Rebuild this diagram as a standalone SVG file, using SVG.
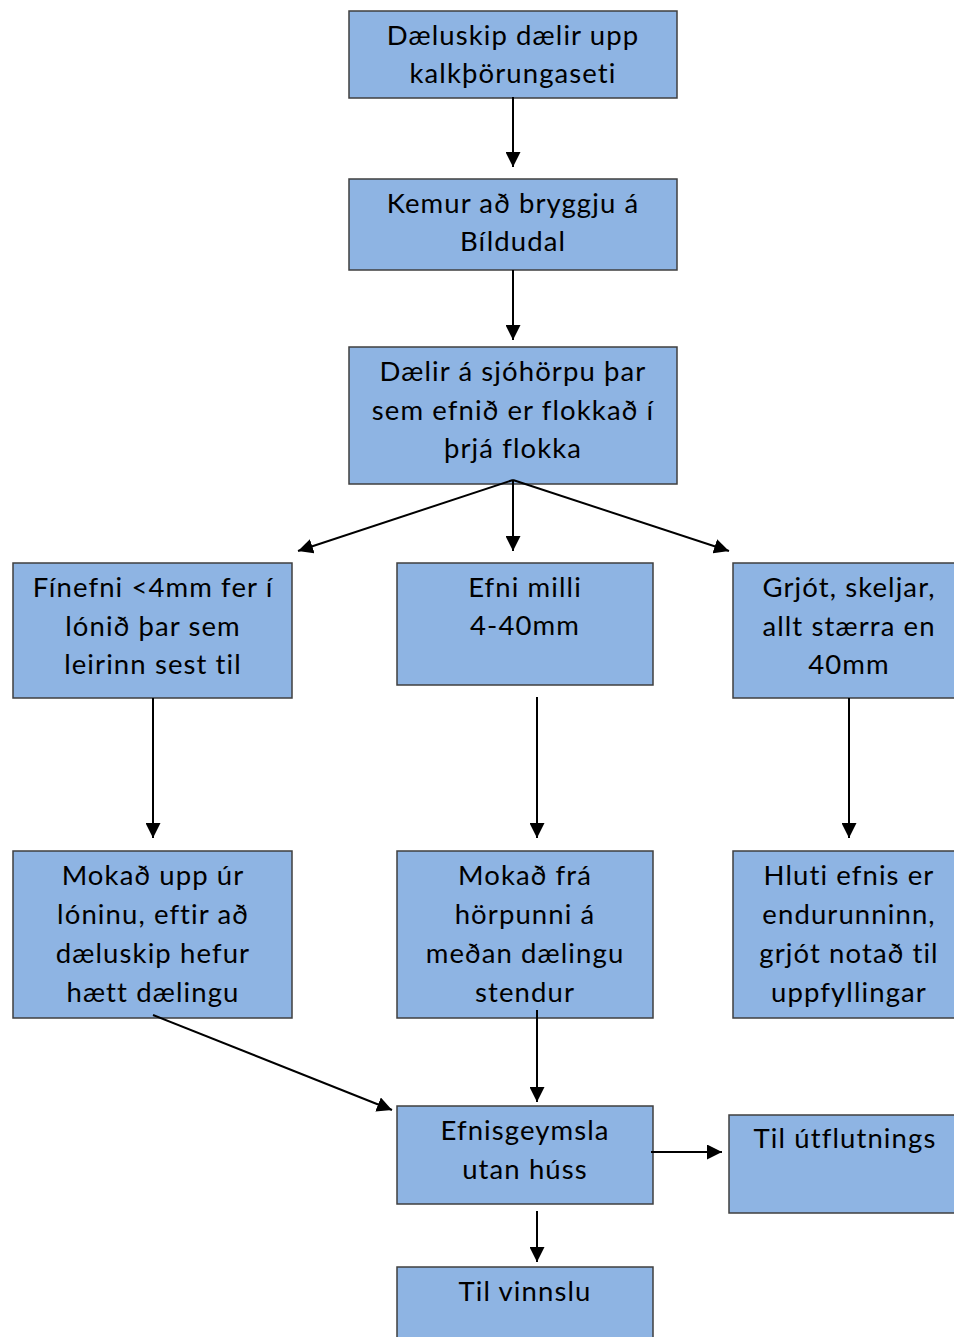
<svg xmlns="http://www.w3.org/2000/svg" width="954" height="1337" viewBox="0 0 954 1337">
<style>
.box{fill:#8EB4E3;stroke:#3F3F3F;stroke-width:1.5}
text{font-family:"Lato","Liberation Sans",sans-serif;font-size:27.5px;letter-spacing:1.1px;font-variant-ligatures:none;fill:#000;text-anchor:middle}
.c line{stroke:#000;stroke-width:2;marker-end:url(#ah)}
</style>
<defs>
<marker id="ah" viewBox="0 0 10 10" refX="10" refY="5" markerWidth="7.5" markerHeight="7.5" markerUnits="strokeWidth" orient="auto">
<path d="M0,0 L10,5 L0,10 Z" fill="#000"/>
</marker>
</defs>
<rect width="954" height="1337" fill="#fff"/>
<g id="n1"><rect class="box" x="349" y="11" width="328" height="87"/><text x="513" y="45">Dæluskip dælir upp</text><text x="513" y="83">kalkþörungaseti</text></g>
<g id="n2"><rect class="box" x="349" y="179" width="328" height="91"/><text x="513" y="213">Kemur að bryggju á</text><text x="513" y="251">Bíldudal</text></g>
<g id="n3"><rect class="box" x="349" y="347" width="328" height="137"/><text x="513" y="381">Dælir á sjóhörpu þar</text><text x="513" y="420">sem efnið er flokkað í</text><text x="513" y="458">þrjá flokka</text></g>
<g id="n4"><rect class="box" x="13" y="563" width="279" height="135"/><text x="153" y="597">Fínefni &lt;4mm fer í</text><text x="153" y="636">lónið þar sem</text><text x="153" y="674">leirinn sest til</text></g>
<g id="n5"><rect class="box" x="397" y="563" width="256" height="122"/><text x="525" y="597">Efni milli</text><text x="525" y="635">4-40mm</text></g>
<g id="n6"><rect class="box" x="733" y="563" width="225" height="135"/><text x="849" y="597">Grjót, skeljar,</text><text x="849" y="636">allt stærra en</text><text x="849" y="674">40mm</text></g>
<g id="n7"><rect class="box" x="13" y="851" width="279" height="167"/><text x="153" y="885">Mokað upp úr</text><text x="153" y="924">lóninu, eftir að</text><text x="153" y="963">dæluskip hefur</text><text x="153" y="1002">hætt dælingu</text></g>
<g id="n8"><rect class="box" x="397" y="851" width="256" height="167"/><text x="525" y="885">Mokað frá</text><text x="525" y="924">hörpunni á</text><text x="525" y="963">meðan dælingu</text><text x="525" y="1002">stendur</text></g>
<g id="n9"><rect class="box" x="733" y="851" width="225" height="167"/><text x="849" y="885">Hluti efnis er</text><text x="849" y="924">endurunninn,</text><text x="849" y="963">grjót notað til</text><text x="849" y="1002">uppfyllingar</text></g>
<g id="n10"><rect class="box" x="397" y="1106" width="256" height="98"/><text x="525" y="1140">Efnisgeymsla</text><text x="525" y="1179">utan húss</text></g>
<g id="n11"><rect class="box" x="729" y="1115" width="229" height="98"/><text x="845" y="1148">Til útflutnings</text></g>
<g id="n12"><rect class="box" x="397" y="1267" width="256" height="80"/><text x="525" y="1301">Til vinnslu</text></g>
<g id="connectors" class="c">
<line x1="513" y1="97" x2="513" y2="167"/>
<line x1="513" y1="270" x2="513" y2="340"/>
<line x1="513" y1="480" x2="298" y2="551"/>
<line x1="513" y1="480" x2="513" y2="551"/>
<line x1="513" y1="480" x2="729" y2="551"/>
<line x1="153" y1="698" x2="153" y2="838"/>
<line x1="537" y1="697" x2="537" y2="838"/>
<line x1="849" y1="698" x2="849" y2="838"/>
<line x1="153" y1="1015" x2="392" y2="1110"/>
<line x1="537" y1="1010" x2="537" y2="1102"/>
<line x1="651" y1="1152" x2="722" y2="1152"/>
<line x1="537" y1="1211" x2="537" y2="1262"/>
</g>
</svg>
